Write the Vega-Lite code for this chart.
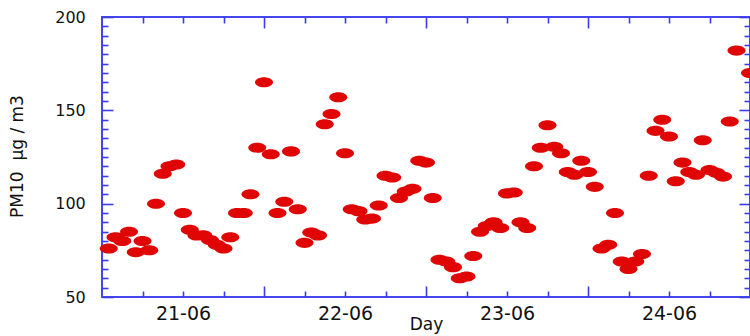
{
  "$schema": "https://vega.github.io/schema/vega-lite/v6.json",
  "usermeta": {"embedOptions": {"actions": false}},
  "width": 648,
  "height": 280,
  "autosize": {"type": "none"},
  "padding": {"left": 102, "top": 17, "right": 0, "bottom": 39},
  "background": "white",
  "data": {
    "values": [
      {"time": "2003-06-21T01:00", "pm10": 76},
      {"time": "2003-06-21T02:00", "pm10": 82},
      {"time": "2003-06-21T03:00", "pm10": 80},
      {"time": "2003-06-21T04:00", "pm10": 85},
      {"time": "2003-06-21T05:00", "pm10": 74},
      {"time": "2003-06-21T06:00", "pm10": 80},
      {"time": "2003-06-21T07:00", "pm10": 75},
      {"time": "2003-06-21T08:00", "pm10": 100},
      {"time": "2003-06-21T09:00", "pm10": 116},
      {"time": "2003-06-21T10:00", "pm10": 120},
      {"time": "2003-06-21T11:00", "pm10": 121},
      {"time": "2003-06-21T12:00", "pm10": 95},
      {"time": "2003-06-21T13:00", "pm10": 86},
      {"time": "2003-06-21T14:00", "pm10": 83},
      {"time": "2003-06-21T15:00", "pm10": 83},
      {"time": "2003-06-21T16:00", "pm10": 80.5},
      {"time": "2003-06-21T17:00", "pm10": 78},
      {"time": "2003-06-21T18:00", "pm10": 76},
      {"time": "2003-06-21T19:00", "pm10": 82},
      {"time": "2003-06-21T20:00", "pm10": 95},
      {"time": "2003-06-21T21:00", "pm10": 95},
      {"time": "2003-06-21T22:00", "pm10": 105},
      {"time": "2003-06-21T23:00", "pm10": 130},
      {"time": "2003-06-22T00:00", "pm10": 165},
      {"time": "2003-06-22T01:00", "pm10": 126.5},
      {"time": "2003-06-22T02:00", "pm10": 95},
      {"time": "2003-06-22T03:00", "pm10": 101},
      {"time": "2003-06-22T04:00", "pm10": 128},
      {"time": "2003-06-22T05:00", "pm10": 97},
      {"time": "2003-06-22T06:00", "pm10": 79},
      {"time": "2003-06-22T07:00", "pm10": 84.5},
      {"time": "2003-06-22T08:00", "pm10": 83},
      {"time": "2003-06-22T09:00", "pm10": 142.5},
      {"time": "2003-06-22T10:00", "pm10": 148},
      {"time": "2003-06-22T11:00", "pm10": 157},
      {"time": "2003-06-22T12:00", "pm10": 127},
      {"time": "2003-06-22T13:00", "pm10": 97},
      {"time": "2003-06-22T14:00", "pm10": 96},
      {"time": "2003-06-22T15:00", "pm10": 91.5},
      {"time": "2003-06-22T16:00", "pm10": 92},
      {"time": "2003-06-22T17:00", "pm10": 99},
      {"time": "2003-06-22T18:00", "pm10": 115},
      {"time": "2003-06-22T19:00", "pm10": 114},
      {"time": "2003-06-22T20:00", "pm10": 103},
      {"time": "2003-06-22T21:00", "pm10": 106.5},
      {"time": "2003-06-22T22:00", "pm10": 108},
      {"time": "2003-06-22T23:00", "pm10": 123},
      {"time": "2003-06-23T00:00", "pm10": 122},
      {"time": "2003-06-23T01:00", "pm10": 103},
      {"time": "2003-06-23T02:00", "pm10": 70},
      {"time": "2003-06-23T03:00", "pm10": 69},
      {"time": "2003-06-23T04:00", "pm10": 66},
      {"time": "2003-06-23T05:00", "pm10": 60},
      {"time": "2003-06-23T06:00", "pm10": 61},
      {"time": "2003-06-23T07:00", "pm10": 72},
      {"time": "2003-06-23T08:00", "pm10": 85},
      {"time": "2003-06-23T09:00", "pm10": 88},
      {"time": "2003-06-23T10:00", "pm10": 90},
      {"time": "2003-06-23T11:00", "pm10": 87},
      {"time": "2003-06-23T12:00", "pm10": 105.5},
      {"time": "2003-06-23T13:00", "pm10": 106},
      {"time": "2003-06-23T14:00", "pm10": 90},
      {"time": "2003-06-23T15:00", "pm10": 87},
      {"time": "2003-06-23T16:00", "pm10": 120},
      {"time": "2003-06-23T17:00", "pm10": 130},
      {"time": "2003-06-23T18:00", "pm10": 142},
      {"time": "2003-06-23T19:00", "pm10": 130.5},
      {"time": "2003-06-23T20:00", "pm10": 127},
      {"time": "2003-06-23T21:00", "pm10": 117},
      {"time": "2003-06-23T22:00", "pm10": 115.5},
      {"time": "2003-06-23T23:00", "pm10": 123},
      {"time": "2003-06-24T00:00", "pm10": 117},
      {"time": "2003-06-24T01:00", "pm10": 109},
      {"time": "2003-06-24T02:00", "pm10": 76},
      {"time": "2003-06-24T03:00", "pm10": 78},
      {"time": "2003-06-24T04:00", "pm10": 95},
      {"time": "2003-06-24T05:00", "pm10": 69},
      {"time": "2003-06-24T06:00", "pm10": 65},
      {"time": "2003-06-24T07:00", "pm10": 69},
      {"time": "2003-06-24T08:00", "pm10": 73},
      {"time": "2003-06-24T09:00", "pm10": 115},
      {"time": "2003-06-24T10:00", "pm10": 139},
      {"time": "2003-06-24T11:00", "pm10": 145},
      {"time": "2003-06-24T12:00", "pm10": 136},
      {"time": "2003-06-24T13:00", "pm10": 112},
      {"time": "2003-06-24T14:00", "pm10": 122},
      {"time": "2003-06-24T15:00", "pm10": 117},
      {"time": "2003-06-24T16:00", "pm10": 115.5},
      {"time": "2003-06-24T17:00", "pm10": 134},
      {"time": "2003-06-24T18:00", "pm10": 118},
      {"time": "2003-06-24T19:00", "pm10": 116.5},
      {"time": "2003-06-24T20:00", "pm10": 114.5},
      {"time": "2003-06-24T21:00", "pm10": 144},
      {"time": "2003-06-24T22:00", "pm10": 182},
      {"time": "2003-06-25T00:00", "pm10": 170}
    ]
  },
  "config": {
    "view": {"stroke": "#4646ee", "strokeWidth": 2},
    "axis": {
      "grid": false,
      "domain": false,
      "tickColor": "#3c3ce6",
      "tickWidth": 1.6,
      "labelColor": "#111111",
      "titleColor": "#111111",
      "labelFont": "DejaVu Sans",
      "titleFont": "DejaVu Sans",
      "titleFontWeight": "normal"
    }
  },
  "resolve": {"axis": {"x": "independent", "y": "independent"}},
  "layer": [
    {
      "mark": {
        "type": "point",
        "shape": "M-1,0A1,0.56,0,1,0,1,0A1,0.56,0,1,0,-1,0Z",
        "filled": true,
        "size": 324,
        "color": "#e00606",
        "opacity": 1
      },
      "encoding": {
        "x": {
          "field": "time",
          "type": "temporal",
          "scale": {
            "domain": [
              {"year": 2003, "month": 6, "date": 21, "hours": 0},
              {"year": 2003, "month": 6, "date": 25, "hours": 0}
            ]
          },
          "axis": {
            "orient": "bottom",
            "values": [
              {"year": 2003, "month": 6, "date": 21, "hours": 12},
              {"year": 2003, "month": 6, "date": 22, "hours": 12},
              {"year": 2003, "month": 6, "date": 23, "hours": 12},
              {"year": 2003, "month": 6, "date": 24, "hours": 12}
            ],
            "format": "%d-%m",
            "ticks": false,
            "labelPadding": 7,
            "labelFontSize": 19,
            "title": "Day",
            "titleFontSize": 17,
            "titleX": 324,
            "titleY": 19
          }
        },
        "y": {
          "field": "pm10",
          "type": "quantitative",
          "scale": {"domain": [50, 200], "nice": false, "zero": false},
          "axis": {
            "orient": "left",
            "values": [50, 100, 150, 200],
            "tickSize": -11,
            "labelPadding": 27.7,
            "labelFontSize": 16,
            "title": "PM10\u00a0\u00a0µg\u00a0/\u00a0m3",
            "titleFontSize": 17,
            "titleX": -76,
            "titleY": 139
          }
        }
      }
    },
    {
      "mark": {"type": "point", "opacity": 0},
      "encoding": {
        "x": {
          "field": "time",
          "type": "temporal",
          "axis": {
            "orient": "bottom",
            "values": [
              {"year": 2003, "month": 6, "date": 21, "hours": 6},
              {"year": 2003, "month": 6, "date": 21, "hours": 12},
              {"year": 2003, "month": 6, "date": 21, "hours": 18},
              {"year": 2003, "month": 6, "date": 22, "hours": 6},
              {"year": 2003, "month": 6, "date": 22, "hours": 12},
              {"year": 2003, "month": 6, "date": 22, "hours": 18},
              {"year": 2003, "month": 6, "date": 23, "hours": 6},
              {"year": 2003, "month": 6, "date": 23, "hours": 12},
              {"year": 2003, "month": 6, "date": 23, "hours": 18},
              {"year": 2003, "month": 6, "date": 24, "hours": 6},
              {"year": 2003, "month": 6, "date": 24, "hours": 12},
              {"year": 2003, "month": 6, "date": 24, "hours": 18}
            ],
            "tickSize": -6,
            "labels": false,
            "title": null
          }
        },
        "y": {
          "field": "pm10",
          "type": "quantitative",
          "axis": {
            "orient": "left",
            "values": [55, 60, 65, 70, 75, 80, 85, 90, 95, 105, 110, 115, 120, 125, 130, 135, 140, 145, 155, 160, 165, 170, 175, 180, 185, 190, 195],
            "tickSize": -6,
            "labels": false,
            "title": null
          }
        }
      }
    },
    {
      "mark": {"type": "point", "opacity": 0},
      "encoding": {
        "x": {
          "field": "time",
          "type": "temporal",
          "axis": {
            "orient": "bottom",
            "values": [
              {"year": 2003, "month": 6, "date": 22, "hours": 0},
              {"year": 2003, "month": 6, "date": 23, "hours": 0},
              {"year": 2003, "month": 6, "date": 24, "hours": 0}
            ],
            "tickSize": -11,
            "labels": false,
            "title": null
          }
        },
        "y": {
          "field": "pm10",
          "type": "quantitative",
          "axis": {
            "orient": "right",
            "values": [50, 100, 150, 200],
            "tickSize": -11,
            "labels": false,
            "title": null
          }
        }
      }
    },
    {
      "mark": {"type": "point", "opacity": 0},
      "encoding": {
        "x": {
          "field": "time",
          "type": "temporal",
          "axis": {
            "orient": "top",
            "values": [
              {"year": 2003, "month": 6, "date": 21, "hours": 6},
              {"year": 2003, "month": 6, "date": 21, "hours": 12},
              {"year": 2003, "month": 6, "date": 21, "hours": 18},
              {"year": 2003, "month": 6, "date": 22, "hours": 6},
              {"year": 2003, "month": 6, "date": 22, "hours": 12},
              {"year": 2003, "month": 6, "date": 22, "hours": 18},
              {"year": 2003, "month": 6, "date": 23, "hours": 6},
              {"year": 2003, "month": 6, "date": 23, "hours": 12},
              {"year": 2003, "month": 6, "date": 23, "hours": 18},
              {"year": 2003, "month": 6, "date": 24, "hours": 6},
              {"year": 2003, "month": 6, "date": 24, "hours": 12},
              {"year": 2003, "month": 6, "date": 24, "hours": 18}
            ],
            "tickSize": -6,
            "labels": false,
            "title": null
          }
        },
        "y": {
          "field": "pm10",
          "type": "quantitative",
          "axis": {
            "orient": "right",
            "values": [55, 60, 65, 70, 75, 80, 85, 90, 95, 105, 110, 115, 120, 125, 130, 135, 140, 145, 155, 160, 165, 170, 175, 180, 185, 190, 195],
            "tickSize": -6,
            "labels": false,
            "title": null
          }
        }
      }
    },
    {
      "mark": {"type": "point", "opacity": 0},
      "encoding": {
        "x": {
          "field": "time",
          "type": "temporal",
          "axis": {
            "orient": "top",
            "values": [
              {"year": 2003, "month": 6, "date": 22, "hours": 0},
              {"year": 2003, "month": 6, "date": 23, "hours": 0},
              {"year": 2003, "month": 6, "date": 24, "hours": 0}
            ],
            "tickSize": -11,
            "labels": false,
            "title": null
          }
        },
        "y": {"field": "pm10", "type": "quantitative", "axis": null}
      }
    }
  ]
}
